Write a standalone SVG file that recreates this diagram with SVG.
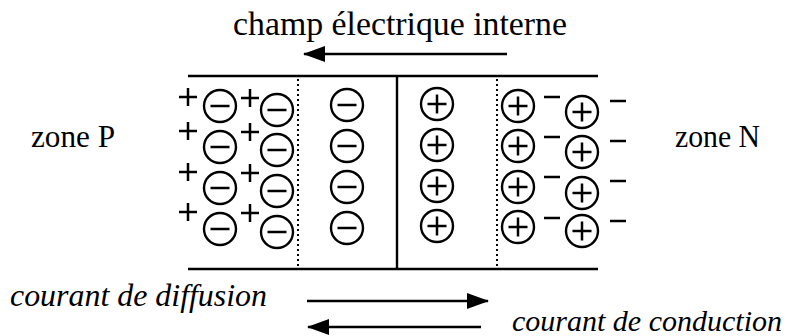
<svg xmlns="http://www.w3.org/2000/svg" width="794" height="336" viewBox="0 0 794 336">
<style>
.t{font-family:"Liberation Serif","Times New Roman",serif;fill:#000}
.i{font-style:italic}
.ln{stroke:#000;stroke-width:2.4;fill:none}
.dot{stroke:#000;stroke-width:2;stroke-dasharray:2 3;fill:none}
.c{stroke:#000;stroke-width:2.4;fill:#fff}
.s{stroke:#000;stroke-width:2.5;fill:none}
</style>
<defs>
<marker id="ah" viewBox="0 0 22 16" refX="21" refY="8" markerWidth="22" markerHeight="16" markerUnits="userSpaceOnUse" orient="auto">
<path d="M0,0 L22,8 L0,16 Z" fill="#000"/>
</marker>
<g id="neg"><circle class="c" r="16"/><path class="s" d="M-9.5,0 H9.5"/></g>
<g id="pos"><circle class="c" r="16"/><path class="s" d="M-9.5,0 H9.5 M0,-9.5 V9.5"/></g>
<path id="pl" class="s" d="M-9,0 H9 M0,-9 V9"/>
<path id="mi" class="s" d="M-8,0 H8"/>
</defs>
<g id="connectors">
<line class="ln" x1="188" y1="76" x2="598" y2="76"/>
<line class="ln" x1="188" y1="269" x2="598" y2="269"/>
<line class="ln" x1="397" y1="76" x2="397" y2="269"/>
<line class="dot" x1="298" y1="79" x2="298" y2="268"/>
<line class="dot" x1="497" y1="79" x2="497" y2="268"/>
<line class="ln" x1="507" y1="54" x2="304" y2="54" marker-end="url(#ah)"/>
<line class="ln" x1="307" y1="301" x2="488" y2="301" marker-end="url(#ah)"/>
<line class="ln" x1="481" y1="327" x2="308" y2="327" marker-end="url(#ah)"/>
</g>
<g id="title"><text class="t" x="400" y="35" font-size="33" text-anchor="middle" textLength="334" lengthAdjust="spacingAndGlyphs">champ électrique interne</text></g>
<g id="zoneP"><text class="t" x="31" y="147" font-size="31" textLength="84" lengthAdjust="spacingAndGlyphs">zone P</text></g>
<g id="zoneN"><text class="t" x="675" y="147" font-size="31" textLength="85" lengthAdjust="spacingAndGlyphs">zone N</text></g>
<g id="diffusion"><text class="t i" x="10" y="306" font-size="31" textLength="257" lengthAdjust="spacingAndGlyphs">courant de diffusion</text></g>
<g id="conduction"><text class="t i" x="512" y="331" font-size="30" textLength="270" lengthAdjust="spacingAndGlyphs">courant de conduction</text></g>
<g id="zoneP-charges">
<use href="#pl" x="188" y="97"/><use href="#pl" x="188" y="131"/><use href="#pl" x="188" y="172"/><use href="#pl" x="188" y="212"/>
<use href="#neg" x="220" y="106"/><use href="#neg" x="220" y="147"/><use href="#neg" x="220" y="188"/><use href="#neg" x="220" y="229"/>
<use href="#pl" x="250" y="98"/><use href="#pl" x="250" y="132"/><use href="#pl" x="250" y="173"/><use href="#pl" x="250" y="213"/>
<use href="#neg" x="277" y="110"/><use href="#neg" x="277" y="150"/><use href="#neg" x="277" y="191"/><use href="#neg" x="277" y="232"/>
</g>
<g id="depletion-neg">
<use href="#neg" x="347" y="105"/><use href="#neg" x="347" y="146"/><use href="#neg" x="347" y="187"/><use href="#neg" x="347" y="228"/>
</g>
<g id="depletion-pos">
<use href="#pos" x="437" y="104"/><use href="#pos" x="437" y="145"/><use href="#pos" x="437" y="186"/><use href="#pos" x="437" y="226"/>
</g>
<g id="zoneN-charges">
<use href="#pos" x="518" y="106"/><use href="#pos" x="518" y="146"/><use href="#pos" x="518" y="187"/><use href="#pos" x="518" y="227"/>
<use href="#mi" x="552" y="97"/><use href="#mi" x="552" y="137"/><use href="#mi" x="552" y="177"/><use href="#mi" x="552" y="218"/>
<use href="#pos" x="582" y="112"/><use href="#pos" x="582" y="152"/><use href="#pos" x="582" y="193"/><use href="#pos" x="582" y="231"/>
<use href="#mi" x="618" y="101"/><use href="#mi" x="618" y="141"/><use href="#mi" x="618" y="181"/><use href="#mi" x="618" y="221"/>
</g>
</svg>
